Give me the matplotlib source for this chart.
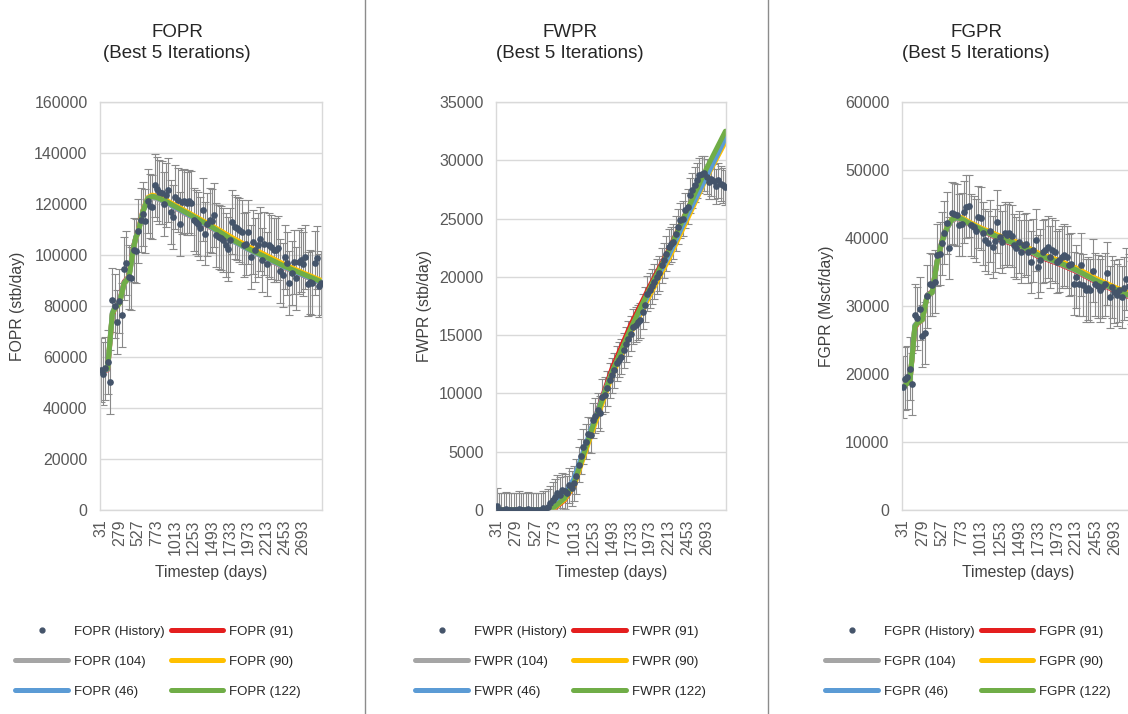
import matplotlib.pyplot as plt
from matplotlib.lines import Line2D

plt.rcParams['font.family'] = ['Liberation Sans', 'DejaVu Sans']

# report timesteps (days)
days = [31, 62, 93, 124, 155, 186, 217, 248, 279, 310, 341, 372, 403, 434, 465, 496,
        527, 558, 589, 620, 650, 681, 711, 742, 773, 803, 833, 863, 893, 923, 953, 983,
        1013, 1043, 1073, 1103, 1133, 1163, 1193, 1223, 1253, 1283, 1313, 1343, 1373, 1403, 1433, 1463,
        1493, 1523, 1553, 1583, 1613, 1643, 1673, 1703, 1733, 1763, 1793, 1823, 1853, 1883, 1913, 1943,
        1973, 2003, 2033, 2063, 2093, 2123, 2153, 2183, 2213, 2243, 2273, 2303, 2333, 2363, 2393, 2423,
        2453, 2483, 2513, 2543, 2573, 2603, 2633, 2663, 2693, 2723, 2753, 2783, 2813, 2843, 2873, 2903,
        2933]
tick_days = [31, 279, 527, 773, 1013, 1253, 1493, 1733, 1973, 2213, 2453, 2693]

# observed rates
fopr_hist = [54900, 53500, 55500, 58000, 50300, 82500, 80000, 73800, 82000, 76400,
             94700, 97000, 91400, 90800, 101900, 101600, 109500, 113600, 116000, 113400,
             121200, 119200, 118900, 127300, 126000, 124700, 124500, 119900, 123400, 125400,
             116900, 115000, 122800, 121700, 112100, 120800, 121200, 120200, 121000, 120500,
             113900, 113000, 112300, 110400, 117800, 108400, 112000, 113600, 113400, 115600,
             107800, 107100, 106700, 106000, 103800, 102500, 106000, 113000, 111000, 110400,
             109700, 109000, 103800, 104500, 109000, 99300, 105100, 101900, 104000, 106400,
             98000, 104500, 96400, 103800, 103200, 102100, 101900, 102600, 93800, 92100,
             99300, 96700, 89100, 92800, 97300, 90800, 97300, 98000, 96600, 99300,
             88600, 89500, 89100, 97000, 99000, 88000, 89100]
fwpr_hist = [350, 0, 0, 0, 50, 0, 0, 0, 0, 100, 0, 0, 0, 50, 0, 0, 0, 0, 0, 150, 100, 300,
             600, 900, 1140, 1500, 1300, 1700, 1600, 1430, 2140, 1860, 2290, 2900, 3900, 4600,
             5430, 5860, 6500, 6430, 7710, 8100, 8570, 8290, 9710, 9900, 10430, 11140, 11570, 12000,
             12570, 12900, 13140, 13710, 14200, 14700, 15140, 15710, 15900, 16100, 16290, 17000, 17600,
             18570, 18860, 19200, 19600, 20000, 20290, 21000, 21430, 22000, 22570, 22800, 23000, 23710,
             24300, 24860, 25000, 25700, 26000, 27000, 27430, 27900, 28290, 28710, 28860, 28900, 28570,
             28140, 28430, 28200, 27770, 28300, 28000, 27860, 27700]
fgpr_hist = [18100, 19300, 19500, 20800, 18500, 28650, 28200, 29600, 25600, 26000,
             31400, 33200, 33100, 33600, 37500, 37700, 39200, 40800, 42200, 38500,
             43700, 43500, 43400, 41900, 42000, 43800, 44600, 44700, 41900, 41600,
             41100, 43100, 42900, 40700, 39700, 39300, 41000, 38700, 39600, 42400,
             40200, 39400, 40700, 40400, 40700, 40300, 38900, 38500, 39400, 38000,
             38900, 39100, 38000, 36500, 38200, 39700, 35800, 36700, 38000, 38200,
             38700, 37200, 38300, 38000, 36500, 36700, 37200, 37500, 37200, 36000,
             36200, 33300, 34300, 33200, 36100, 33100, 32300, 32600, 32300, 35200,
             33200, 32900, 32300, 32800, 33200, 34800, 31300, 32800, 32100, 31600,
             32300, 31300, 32600, 34000, 33000, 32000, 31500]

# measurement error bars (+/-)
fopr_err = 12500
fwpr_err = 1500
fgpr_err = 4600

# simulated rates, best 5 iterations
sim_days = [31, 124, 186, 217, 279, 341, 403, 465, 496, 527, 589, 650,
            711, 773, 893, 1013, 1253, 1493, 1733, 1973, 2213, 2453, 2693, 2933]
runs = ['91', '104', '90', '46', '122']
run_colors = ['#e41e1e', '#a5a5a5', '#ffc000', '#5b9bd5', '#70ad47']

fopr_91 = [54000, 55000, 76500, 79000, 81500, 89500, 91500, 103500, 107000, 109500, 117500, 122000,
           123000, 122500, 121000, 118500, 114500, 110500, 106500, 102500, 98500, 95000, 92000, 89000]
fopr_104 = [54200, 55200, 77500, 79500, 81000, 88500, 91000, 102500, 106500, 109000, 117000, 121500,
            122500, 122000, 120500, 118500, 114500, 110500, 106000, 102000, 98500, 95000, 92000, 89000]
fopr_90 = [54000, 55500, 77000, 79000, 81000, 89000, 91500, 103000, 107000, 109500, 117500, 122500,
           123500, 123000, 121500, 119500, 115500, 111500, 107300, 103300, 99800, 96200, 93000, 90000]
fopr_46 = [54000, 55300, 77200, 79200, 81200, 89200, 91200, 103200, 107200, 109200, 117200, 122200,
           123000, 122500, 120800, 118700, 114700, 110800, 106300, 102300, 98800, 95300, 92200, 89200]
fopr_122 = [54000, 55500, 77000, 79000, 81000, 89000, 91000, 103000, 107000, 109000, 117000, 122000,
            123000, 122500, 121000, 119000, 115000, 111000, 106500, 102500, 99000, 95500, 92500, 89500]

fwpr_91 = [0, 0, 0, 0, 0, 0, 0, 0, 0, 0, 0, 0,
           0, 200, 850, 2100, 7350, 12100, 15900, 19200, 22300, 25800, 29100, 32100]
fwpr_104 = [0, 0, 0, 0, 0, 0, 0, 0, 0, 0, 0, 0,
            50, 300, 1000, 2300, 7100, 11700, 15500, 18900, 22000, 25500, 28900, 32200]
fwpr_90 = [0, 0, 0, 0, 0, 0, 0, 0, 0, 0, 0, 0,
           30, 250, 900, 2100, 6900, 11500, 15200, 18400, 21500, 25000, 28500, 31600]
fwpr_46 = [0, 0, 0, 0, 0, 0, 0, 0, 0, 0, 0, 0,
           80, 450, 1300, 2700, 7400, 11800, 15400, 18700, 21800, 25300, 28600, 31900]
fwpr_122 = [0, 0, 0, 0, 0, 0, 0, 0, 0, 0, 0, 0,
            50, 300, 1000, 2300, 7200, 11800, 15600, 19000, 22200, 25800, 29300, 32500]

fgpr_91 = [18000, 19000, 26800, 27400, 28000, 31600, 32100, 36600, 38000, 39600, 41500, 42600,
           42900, 42700, 41900, 41200, 39800, 38800, 37300, 36300, 35100, 33600, 32300, 31100]
fgpr_104 = [18100, 19100, 27200, 27600, 27900, 31400, 31900, 36400, 37900, 39400, 41400, 42600,
            42900, 42700, 41900, 41200, 39900, 38900, 37400, 36400, 35200, 33700, 32400, 31200]
fgpr_90 = [18000, 19000, 27000, 27500, 28000, 31500, 32000, 36500, 38000, 39500, 41600, 42800,
           43100, 43000, 42200, 41500, 40300, 39300, 37800, 36800, 35600, 34100, 32800, 31600]
fgpr_46 = [18000, 19000, 27100, 27500, 28100, 31600, 32000, 36600, 38100, 39500, 41500, 42700,
           43000, 42800, 42000, 41300, 40000, 39000, 37500, 36500, 35300, 33800, 32500, 31300]
fgpr_122 = [18000, 19000, 27000, 27500, 28000, 31500, 32000, 36500, 38000, 39500, 41500, 42700,
            43000, 42800, 42000, 41300, 40000, 39000, 37500, 36500, 35300, 33800, 32500, 31300]

W, H = 1128, 714
fig = plt.figure(figsize=(W / 100, H / 100), dpi=100)


def px_axes(left, right, top, bottom):
    return fig.add_axes([left / W, 1 - bottom / H, (right - left) / W, (bottom - top) / H])


panels = [
    dict(name='FOPR', unit='stb/day', hist=fopr_hist, err=fopr_err,
         sims=[fopr_91, fopr_104, fopr_90, fopr_46, fopr_122],
         ymax=160000, ystep=20000, box=(100, 322), title_x=177, ylab_x=18, leg_x=10),
    dict(name='FWPR', unit='stb/day', hist=fwpr_hist, err=fwpr_err,
         sims=[fwpr_91, fwpr_104, fwpr_90, fwpr_46, fwpr_122],
         ymax=35000, ystep=5000, box=(496, 726), title_x=570, ylab_x=425, leg_x=410),
    dict(name='FGPR', unit='Mscf/day', hist=fgpr_hist, err=fgpr_err,
         sims=[fgpr_91, fgpr_104, fgpr_90, fgpr_46, fgpr_122],
         ymax=60000, ystep=10000, box=(902, 1134), title_x=976, ylab_x=827, leg_x=820),
]

grid_col = '#d9d9d9'
text_col = '#404040'
hist_col = '#44546a'

for p in panels:
    left, right = p['box']
    ax = px_axes(left, right, 102, 510)

    ax.errorbar(days, p['hist'], yerr=p['err'], fmt='none', ecolor='#8a8a8a',
                elinewidth=0.8, capsize=3.2, capthick=0.8, zorder=1)
    line_handles = []
    for run, col, vals in zip(runs, run_colors, p['sims']):
        h, = ax.plot(sim_days, vals, color=col, lw=3.6, solid_capstyle='round',
                     label=f"{p['name']} ({run})", zorder=2)
        line_handles.append(h)
    ax.plot(days, p['hist'], 'o', ms=3.8, color=hist_col, zorder=3)

    ax.set_xlim(24, 2940)
    ax.set_ylim(0, p['ymax'])
    ax.set_yticks(range(0, p['ymax'] + 1, p['ystep']))
    ax.set_xticks(tick_days)
    ax.set_xticklabels([str(d) for d in tick_days], rotation=90)
    ax.tick_params(axis='both', length=0, colors='#595959', labelsize=11.5)
    ax.tick_params(axis='x', pad=7)
    ax.tick_params(axis='y', pad=9)
    ax.grid(True, axis='y', color=grid_col, lw=1)
    ax.set_axisbelow(True)
    for s in ax.spines.values():
        s.set_color(grid_col)
        s.set_linewidth(1)

    cx = (left + right) / 2
    fig.text(p['title_x'] / W, 1 - 24 / H, f"{p['name']}\n(Best 5 Iterations)",
             ha='center', va='top', fontsize=13.5, linespacing=1.3, color='#262626')
    fig.text(p['ylab_x'] / W, 1 - 306 / H, f"{p['name']} ({p['unit']})", rotation=90,
             ha='center', va='center', fontsize=11.3, color=text_col)
    fig.text(cx / W, 1 - 573 / H, 'Timestep (days)', ha='center', va='center',
             fontsize=11.3, color=text_col)

    # two-column legend: history / 104 / 46 on the left, 91 / 90 / 122 on the right
    hist_handle = Line2D([], [], ls='none', marker='o', ms=3.5, color=hist_col)
    handles = [hist_handle, line_handles[1], line_handles[3],
               line_handles[0], line_handles[2], line_handles[4]]
    labels = [f"{p['name']} (History)", f"{p['name']} (104)", f"{p['name']} (46)",
              f"{p['name']} (91)", f"{p['name']} (90)", f"{p['name']} (122)"]
    ax.legend(handles, labels, ncol=2, loc='upper left', frameon=False,
              bbox_to_anchor=(p['leg_x'] / W, 1 - 620 / H), bbox_transform=fig.transFigure,
              fontsize=9.5, handlelength=4.0, handletextpad=0.45, columnspacing=0.45,
              labelspacing=1.35, borderaxespad=0, labelcolor='#262626')

# panel separators
for x in (365, 768):
    fig.add_artist(Line2D([x / W, x / W], [0, 1], transform=fig.transFigure,
                          color='#8c8c8c', lw=1))

fig.savefig('out.png', dpi=100, facecolor='white')
